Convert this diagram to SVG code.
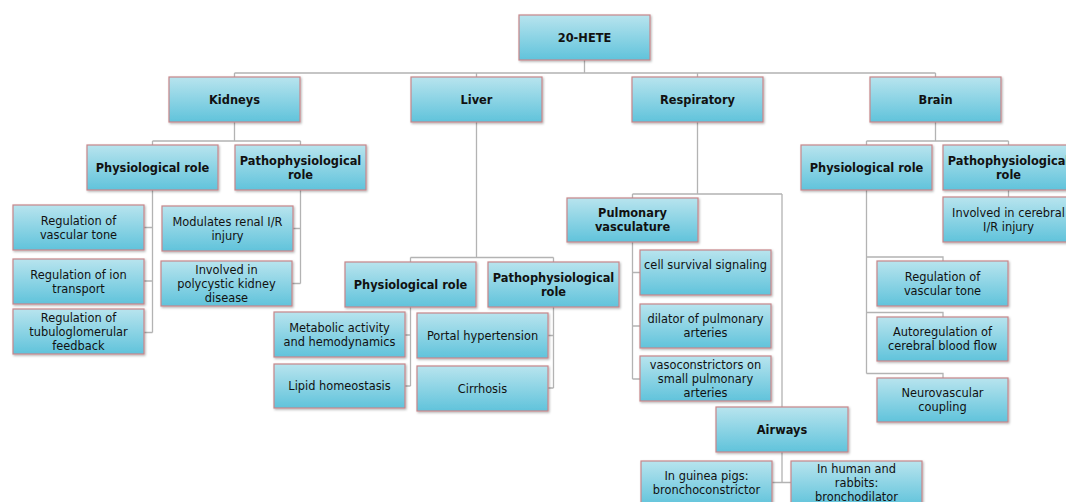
<svg xmlns="http://www.w3.org/2000/svg" width="1066" height="502" viewBox="0 0 1066 502">
<defs>
<linearGradient id="g" x1="0" y1="0" x2="0" y2="1">
<stop offset="0" stop-color="#b8e4ee"/>
<stop offset="1" stop-color="#60c3db"/>
</linearGradient>
<filter id="sh" x="-5%" y="-5%" width="115%" height="125%">
<feDropShadow dx="1" dy="1.2" stdDeviation="0.8" flood-color="#000" flood-opacity="0.3"/>
</filter>
<style>
.b{fill:url(#g);stroke:#c7868a;stroke-width:1.2;filter:url(#sh)}
.t{font-family:"DejaVu Sans",Verdana,sans-serif;font-size:11.4px;fill:#111;text-anchor:middle}
.h{font-weight:bold}
.c{fill:none;stroke:#b3b3b3;stroke-width:1.3}
</style>
</defs>
<rect width="1066" height="502" fill="#fff"/>
<g id="connectors" class="c">
<path d="M584.5,60V73M234.5,73H935.5M234.5,73V77M476.5,73V77M697.5,73V77M935.5,73V77"/>
<path d="M234.5,122V141M152.5,141H300.5M152.5,141V145M300.5,141V145"/>
<path d="M152.5,190V332.5M144,227.5H152.5M144,281H152.5M144,332.5H152.5"/>
<path d="M300.5,190V283.5M293,228.5H300.5M292,283.5H300.5"/>
<path d="M476.5,122V257.5M410.5,257.5H553.5M410.5,257.5V262M553.5,257.5V262"/>
<path d="M410.5,307V386M405,335H410.5M405,386H410.5"/>
<path d="M553.5,307V388M548,335.5H553.5M548,388H553.5"/>
<path d="M697.5,122V194M632.5,194H782M632.5,194V198M782,194V407"/>
<path d="M632.5,242V379M632.5,272.5H640M632.5,326H640M632.5,379H640"/>
<path d="M782,452V482.5M772,482.5H791"/>
<path d="M935.5,122V141M866.5,141H1008.5M866.5,141V145M1008.5,141V145"/>
<path d="M1008.5,190V197"/>
<path d="M866.5,190V373.5M866.5,257H943V261M866.5,312.5H943V317M866.5,373.5H943V378"/>
</g>
<g id="hete"><rect class="b" x="519" y="15" width="131" height="45"/><text class="t h" x="584.5" y="41.5">20-HETE</text></g>
<g id="kidneys"><rect class="b" x="169" y="77" width="131" height="45"/><text class="t h" x="234.5" y="103.5">Kidneys</text></g>
<g id="liver"><rect class="b" x="411" y="77" width="131" height="45"/><text class="t h" x="476.5" y="103.5">Liver</text></g>
<g id="respiratory"><rect class="b" x="632" y="77" width="131" height="45"/><text class="t h" x="697.5" y="103.5">Respiratory</text></g>
<g id="brain"><rect class="b" x="870" y="77" width="131" height="45"/><text class="t h" x="935.5" y="103.5">Brain</text></g>
<g id="k_phys"><rect class="b" x="87" y="145" width="131" height="45"/><text class="t h" x="152.5" y="171.5">Physiological role</text></g>
<g id="k_path"><rect class="b" x="235" y="145" width="131" height="45"/><text class="t h" x="300.5" y="164.5">Pathophysiological</text><text class="t h" x="300.5" y="178.5">role</text></g>
<g id="k1"><rect class="b" x="13" y="205" width="131" height="45"/><text class="t" x="78.5" y="224.5">Regulation of</text><text class="t" x="78.5" y="238.5">vascular tone</text></g>
<g id="k2"><rect class="b" x="13" y="259" width="131" height="45"/><text class="t" x="78.5" y="278.5">Regulation of ion</text><text class="t" x="78.5" y="292.5">transport</text></g>
<g id="k3"><rect class="b" x="13" y="309" width="131" height="45"/><text class="t" x="78.5" y="321.5">Regulation of</text><text class="t" x="78.5" y="335.5">tubuloglomerular</text><text class="t" x="78.5" y="349.5">feedback</text></g>
<g id="k4"><rect class="b" x="162" y="206" width="131" height="45"/><text class="t" x="227.5" y="225.5">Modulates renal I/R</text><text class="t" x="227.5" y="239.5">injury</text></g>
<g id="k5"><rect class="b" x="161" y="261" width="131" height="45"/><text class="t" x="226.5" y="273.5">Involved in</text><text class="t" x="226.5" y="287.5">polycystic kidney</text><text class="t" x="226.5" y="301.5">disease</text></g>
<g id="l_phys"><rect class="b" x="345" y="262" width="131" height="45"/><text class="t h" x="410.5" y="288.5">Physiological role</text></g>
<g id="l_path"><rect class="b" x="488" y="262" width="131" height="45"/><text class="t h" x="553.5" y="281.5">Pathophysiological</text><text class="t h" x="553.5" y="295.5">role</text></g>
<g id="l1"><rect class="b" x="274" y="312" width="131" height="45"/><text class="t" x="339.5" y="331.5">Metabolic activity</text><text class="t" x="339.5" y="345.5">and hemodynamics</text></g>
<g id="l2"><rect class="b" x="274" y="364" width="131" height="44"/><text class="t" x="339.5" y="390">Lipid homeostasis</text></g>
<g id="l3"><rect class="b" x="417" y="313" width="131" height="45"/><text class="t" x="482.5" y="339.5">Portal hypertension</text></g>
<g id="l4"><rect class="b" x="417" y="366" width="131" height="45"/><text class="t" x="482.5" y="392.5">Cirrhosis</text></g>
<g id="pv"><rect class="b" x="567" y="198" width="131" height="44"/><text class="t h" x="632.5" y="217">Pulmonary</text><text class="t h" x="632.5" y="231">vasculature</text></g>
<g id="p1"><rect class="b" x="640" y="250" width="131" height="45"/><text class="t" x="705.5" y="269">cell survival signaling</text></g>
<g id="p2"><rect class="b" x="640" y="304" width="131" height="44"/><text class="t" x="705.5" y="323">dilator of pulmonary</text><text class="t" x="705.5" y="337">arteries</text></g>
<g id="p3"><rect class="b" x="640" y="356" width="131" height="45"/><text class="t" x="705.5" y="368.5">vasoconstrictors on</text><text class="t" x="705.5" y="382.5">small pulmonary</text><text class="t" x="705.5" y="396.5">arteries</text></g>
<g id="airways"><rect class="b" x="716" y="407" width="132" height="45"/><text class="t h" x="782" y="433.5">Airways</text></g>
<g id="a1"><rect class="b" x="641" y="461" width="131" height="45"/><text class="t" x="706.5" y="479.5">In guinea pigs:</text><text class="t" x="706.5" y="493.5">bronchoconstrictor</text></g>
<g id="a2"><rect class="b" x="791" y="461" width="131" height="45"/><text class="t" x="856.5" y="472.5">In human and</text><text class="t" x="856.5" y="486.5">rabbits:</text><text class="t" x="856.5" y="500.5">bronchodilator</text></g>
<g id="b_phys"><rect class="b" x="801" y="145" width="131" height="45"/><text class="t h" x="866.5" y="171.5">Physiological role</text></g>
<g id="b_path"><rect class="b" x="943" y="145" width="131" height="45"/><text class="t h" x="1008.5" y="164.5">Pathophysiological</text><text class="t h" x="1008.5" y="178.5">role</text></g>
<g id="b1"><rect class="b" x="943" y="197" width="131" height="45"/><text class="t" x="1008.5" y="216.5">Involved in cerebral</text><text class="t" x="1008.5" y="230.5">I/R injury</text></g>
<g id="b2"><rect class="b" x="877" y="261" width="131" height="45"/><text class="t" x="942.5" y="280.5">Regulation of</text><text class="t" x="942.5" y="294.5">vascular tone</text></g>
<g id="b3"><rect class="b" x="877" y="317" width="131" height="44"/><text class="t" x="942.5" y="336">Autoregulation of</text><text class="t" x="942.5" y="350">cerebral blood flow</text></g>
<g id="b4"><rect class="b" x="877" y="378" width="131" height="44"/><text class="t" x="942.5" y="397">Neurovascular</text><text class="t" x="942.5" y="411">coupling</text></g>
</svg>
